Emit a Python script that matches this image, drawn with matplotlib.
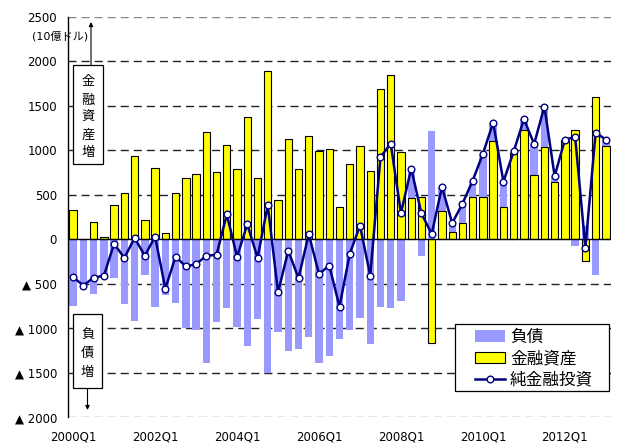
import numpy as np
import matplotlib
matplotlib.use('Agg')
import matplotlib.pyplot as plt
from matplotlib.patches import Rectangle

plt.rcParams['font.family'] = ['DejaVu Sans', 'Noto Sans CJK JP']

# quarterly flows, 2000Q1 .. 2013Q1 (10億ドル)
tick_labels = ['2000Q1', '2002Q1', '2004Q1', '2006Q1', '2008Q1', '2010Q1', '2012Q1']
assets = [325, 0, 190, 30, 390, 515, 930, 215, 795, 75, 520, 692, 737, 1208,
          760, 1055, 793, 1370, 692, 1887, 440, 1123, 793, 1160, 995, 1015,
          358, 850, 1044, 772, 1684, 1845, 985, 460, 480, -1160, 318, 85, 183,
          472, 472, 1101, 360, 966, 1232, 719, 1034, 648, 1110, 1228, -240,
          1598, 1045]
liabilities = [-750, -520, -620, -440, -440, -725, -915, -400, -765, -630,
               -715, -997, -1017, -1393, -935, -775, -990, -1202, -900, -1505,
               -1037, -1252, -1230, -1102, -1385, -1310, -1115, -1015, -890,
               -1180, -760, -772, -690, 334, -190, 1220, 270, 97, 215, 187,
               488, 210, 288, 20, 116, 352, 457, 60, 10, -79, 146, -401, 75]
net = [-425, -520, -430, -410, -50, -210, 15, -185, 30, -555, -195, -305,
       -280, -185, -175, 280, -197, 168, -208, 382, -597, -129, -437, 58,
       -390, -295, -757, -165, 154, -408, 924, 1073, 295, 794, 290, 60, 588,
       182, 398, 659, 960, 1311, 648, 986, 1348, 1071, 1491, 708, 1120, 1149,
       -94, 1197, 1120]
yticks = [2500, 2000, 1500, 1000, 500, 0, -500, -1000, -1500, -2000]

W, H = 619, 444
fig = plt.figure(figsize=(W / 100, H / 100), dpi=100)
ax = fig.add_axes([68 / W, 1 - 417.3 / H, 543 / W, 400.6 / H])


def px(x, y):
    # pixel position -> figure fraction
    return x / W, 1 - y / H


x = np.arange(len(assets))
a = np.array(assets, dtype=float)
l = np.array(liabilities, dtype=float)
# excel style stacking: positives on positives, negatives on negatives
l_bottom = np.where(l >= 0, np.maximum(a, 0), np.minimum(a, 0))

b1 = ax.bar(x, l, width=0.72, bottom=l_bottom, color='#9999FF', linewidth=0,
            zorder=2, label='負債')
b2 = ax.bar(x, a, width=0.72, color='#FFFF00', edgecolor='black', linewidth=0.8,
            zorder=2, label='金融資産')
ln, = ax.plot(x, net, '-o', color='#000080', linewidth=1.8, markersize=4.8,
              markerfacecolor='white', markeredgecolor='#000080',
              markeredgewidth=1.0, zorder=4, label='純金融投資')

for v in yticks:
    if v == 0:
        ax.axhline(0, color='black', linewidth=1.0, zorder=3)
    else:
        col = '#888888' if v in (2500, -2000) else '#222222'
        ax.axhline(v, color=col, linewidth=1.0, linestyle=(0, (5.8, 3.6)),
                   zorder=0)

ax.set_xlim(-0.5, len(assets) - 0.5)
ax.set_ylim(-2000, 2500)
ax.set_yticks(yticks)
ax.set_yticklabels([str(v) if v >= 0 else '▲ ' + str(-v) for v in yticks],
                   fontsize=8.5)
ax.set_xticks(np.arange(0, len(assets), 8))
ax.set_xticklabels(tick_labels, fontsize=8.5)
ax.tick_params(axis='y', length=0, pad=8)
ax.tick_params(axis='x', length=0, pad=9.5)
for s in ['top', 'right', 'bottom']:
    ax.spines[s].set_visible(False)
ax.spines['left'].set_linewidth(1.0)

# unit
fig.text(*px(60, 36), '(10億ドル)', fontsize=8, ha='center', va='center')

# "金融資産増" box with arrow up
fig.patches.append(Rectangle(px(73, 164), 30 / W, 99 / H, transform=fig.transFigure,
                             facecolor='white', edgecolor='black', linewidth=0.9,
                             zorder=5))
for ch, yy in zip('金融資産増', [82, 100, 117, 135, 152]):
    fig.text(*px(88, yy), ch, fontsize=9.5, ha='center', va='center', zorder=6)
ax.annotate('', xy=px(91, 22), xytext=px(91, 65), xycoords='figure fraction',
            textcoords='figure fraction',
            arrowprops=dict(arrowstyle='-|>', color='black', lw=0.8,
                            mutation_scale=6, shrinkA=0, shrinkB=0))

# "負債増" box with arrow down
fig.patches.append(Rectangle(px(73, 388), 29 / W, 74 / H, transform=fig.transFigure,
                             facecolor='white', edgecolor='black', linewidth=0.9,
                             zorder=5))
for ch, yy in zip('負債増', [335, 353, 372]):
    fig.text(*px(87.5, yy), ch, fontsize=9.5, ha='center', va='center', zorder=6)
ax.annotate('', xy=px(87.5, 410), xytext=px(87.5, 388), xycoords='figure fraction',
            textcoords='figure fraction',
            arrowprops=dict(arrowstyle='-|>', color='black', lw=0.8,
                            mutation_scale=6, shrinkA=0, shrinkB=0))

# legend: own frame, entries without frame
ax.add_patch(Rectangle(px(455, 391), 154 / W, 67 / H, transform=fig.transFigure,
                       facecolor='white', edgecolor='black', linewidth=0.9,
                       zorder=9, clip_on=False))
leg = ax.legend([b1, b2, ln], ['負債', '金融資産', '純金融投資'],
                loc='center left', bbox_to_anchor=(0.7495, 0.147), fontsize=12,
                frameon=False, handlelength=1.8, handletextpad=0.3,
                labelspacing=0.2, borderpad=0, borderaxespad=0)
leg.set_zorder(10)

fig.savefig('out.png', dpi=100)
